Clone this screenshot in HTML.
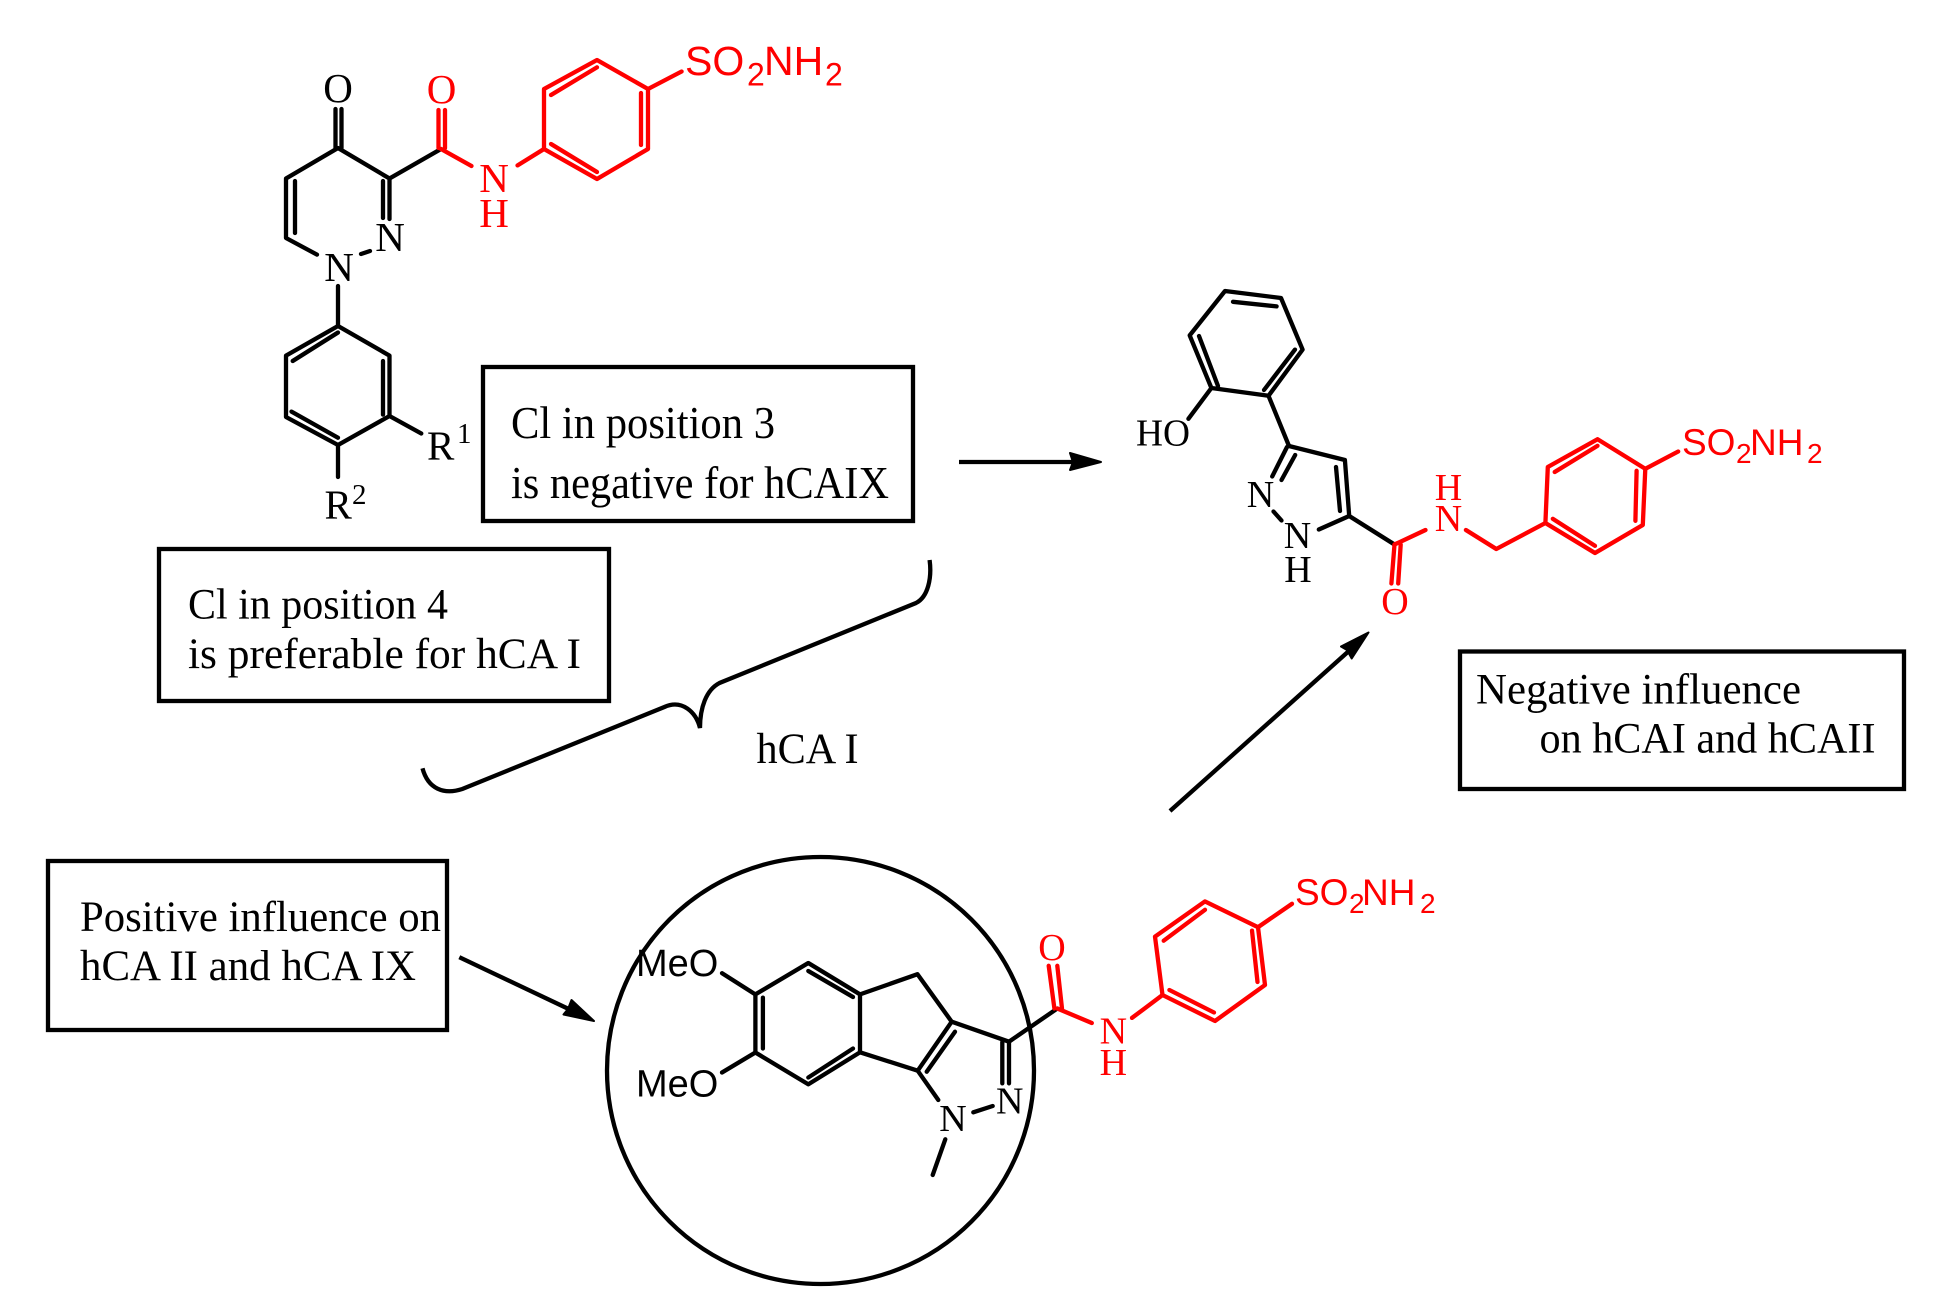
<!DOCTYPE html>
<html><head><meta charset="utf-8"><style>
html,body{margin:0;padding:0;background:#fff}
svg{display:block}
.s{font-family:"Liberation Serif",serif}
.a{font-family:"Liberation Sans",sans-serif}
.k line,.k polyline,.k polygon{stroke:#000;stroke-width:4.3;fill:none;stroke-linecap:round;stroke-linejoin:round}
.r line,.r polyline,.r polygon{stroke:#f00;stroke-width:4.3;fill:none;stroke-linecap:round;stroke-linejoin:round}
</style></head><body>
<svg width="1933" height="1311" viewBox="0 0 1933 1311" xmlns="http://www.w3.org/2000/svg">
<rect width="1933" height="1311" fill="#fff"/>

<!-- boxes -->
<g fill="none" stroke="#000" stroke-width="4.3">
<rect x="483" y="367" width="430" height="154"/>
<rect x="159" y="549" width="450" height="152"/>
<rect x="48" y="861" width="399" height="169"/>
<rect x="1460" y="651.5" width="444" height="137.5"/>
<circle cx="820.5" cy="1070.5" r="213.5"/>
<path d="M929.6 560 C932 578 928 597 916 603 L719.5 683 C706 690 700 708 700 728 C696 712 682 699 664.4 707 L462.3 789 C444 795 428 789 422.5 768.3"/>
</g>

<!-- box text -->
<g class="s" fill="#000">
<text x="511" y="438" font-size="46" textLength="264" lengthAdjust="spacingAndGlyphs">Cl in position 3</text>
<text x="511" y="498" font-size="46" textLength="378" lengthAdjust="spacingAndGlyphs">is negative for hCAIX</text>
<text x="188" y="618.5" font-size="43" textLength="260" lengthAdjust="spacingAndGlyphs">Cl in position 4</text>
<text x="188" y="668" font-size="43" textLength="393" lengthAdjust="spacingAndGlyphs">is preferable for hCA I</text>
<text x="756.5" y="763" font-size="43" textLength="102" lengthAdjust="spacingAndGlyphs">hCA I</text>
<text x="80" y="931" font-size="43" textLength="361" lengthAdjust="spacingAndGlyphs">Positive influence on</text>
<text x="80" y="980" font-size="43" textLength="336" lengthAdjust="spacingAndGlyphs">hCA II and hCA IX</text>
<text x="1476" y="703.5" font-size="43" textLength="325" lengthAdjust="spacingAndGlyphs">Negative influence</text>
<text x="1539.5" y="752.5" font-size="43" textLength="336" lengthAdjust="spacingAndGlyphs">on hCAI and hCAII</text>
</g>

<!-- arrows -->
<g stroke="#000" stroke-width="4.3" fill="none">
<line x1="959" y1="462" x2="1080" y2="462"/>
<line x1="1170" y1="811" x2="1350" y2="650"/>
<line x1="459.3" y1="957.2" x2="575" y2="1012"/>
</g>
<g fill="#000" stroke="#000" stroke-width="2" stroke-linejoin="round">
<polygon points="1101,462 1070,453 1073,462 1070,470"/>
<polygon points="1368.5,632.5 1341,646.5 1347,650 1351.7,658.5"/>
<polygon points="594,1021 571.5,1000 568,1009 563.5,1014.5"/>
</g>

<!-- molecule A black -->
<g class="k">
<line x1="335.5" y1="109" x2="335.5" y2="148"/><line x1="341.5" y1="109" x2="341.5" y2="148"/>
<polyline points="389.5,219 389.5,178.5 338,148 286,178.5 286,238 317,254.6"/>
<line x1="383" y1="181" x2="383" y2="218"/>
<line x1="295" y1="181" x2="295" y2="233"/>
<line x1="361" y1="254" x2="370" y2="251"/>
<line x1="389.5" y1="178.5" x2="441" y2="149"/>
<line x1="338" y1="286" x2="338" y2="326"/>
<polygon points="338,326 389.5,355.6 389.5,416 338,445 286,417 286,355.6"/>
<line x1="292.7" y1="361" x2="338" y2="332.5"/>
<line x1="383" y1="361" x2="383" y2="414.6"/>
<line x1="291.5" y1="411.6" x2="338" y2="437.7"/>
<line x1="389.5" y1="416" x2="421.3" y2="433.5"/>
<line x1="338" y1="445" x2="338" y2="477"/>
</g>
<g class="r">
<line x1="438.5" y1="110" x2="438.5" y2="148"/><line x1="445" y1="110" x2="445" y2="148"/>
<polyline points="441,149 471.5,166"/>
<line x1="517.5" y1="165.4" x2="544" y2="149"/>
<polygon points="544,149 544,89 597,60 648,89 648,149 597,179"/>
<line x1="551" y1="95" x2="597" y2="67.3"/>
<line x1="641" y1="93" x2="641" y2="145"/>
<line x1="551" y1="144" x2="597" y2="172"/>
<line x1="648" y1="89" x2="681.6" y2="71.5"/>
</g>
<g class="s" font-size="41" fill="#000">
<text x="338" y="102" text-anchor="middle">O</text>
<text x="339" y="281" text-anchor="middle">N</text>
<text x="390" y="251" text-anchor="middle">N</text>
<text x="427" y="459.6">R</text>
<text x="457" y="443" font-size="29">1</text>
<text x="324.5" y="518.5">R</text>
<text x="352" y="504" font-size="29">2</text>
</g>
<g class="s" font-size="41" fill="#f00">
<text x="441.5" y="103" text-anchor="middle">O</text>
<text x="494" y="192" text-anchor="middle">N</text>
<text x="494" y="227" text-anchor="middle">H</text>
</g>
<g class="a" fill="#f00">
<text x="685" y="75" font-size="41">SO</text>
<text x="747" y="85.5" font-size="32">2</text>
<text x="764" y="75" font-size="41">NH</text>
<text x="825" y="85.5" font-size="32">2</text>
</g>

<!-- molecule B black -->
<g class="k">
<polygon points="1225,291 1281,298 1302.6,349.6 1268.5,395.8 1211.4,388 1189.7,335.4"/>
<line x1="1233" y1="301.8" x2="1276.6" y2="306.4"/>
<line x1="1199" y1="336" x2="1218" y2="386"/>
<line x1="1295" y1="349.6" x2="1264" y2="390"/>
<line x1="1211.4" y1="388" x2="1188.4" y2="418.8"/>
<line x1="1268.5" y1="395.8" x2="1289" y2="446"/>
<polyline points="1289,446 1344.9,460 1349.2,516 1394.5,544.5"/>
<line x1="1287" y1="447" x2="1272.2" y2="476.5"/>
<line x1="1295.2" y1="455" x2="1281.5" y2="480"/>
<line x1="1336" y1="467" x2="1340" y2="511"/>
<line x1="1273.5" y1="511.5" x2="1281.5" y2="520.5"/>
<line x1="1318.8" y1="529.5" x2="1349.2" y2="516"/>
</g>
<g class="r">
<line x1="1394.5" y1="544.5" x2="1391.4" y2="583.5"/>
<line x1="1400.7" y1="544.5" x2="1398.2" y2="583.5"/>
<line x1="1394.5" y1="544.5" x2="1425.5" y2="530"/>
<polyline points="1465.9,530 1496.3,549 1545.4,523"/>
<polygon points="1545.4,523 1547.8,467 1597.5,439.2 1645.3,468.8 1642.8,525 1595,553"/>
<line x1="1554.7" y1="472" x2="1597.5" y2="445.8"/>
<line x1="1636.6" y1="470.8" x2="1635.4" y2="520.8"/>
<line x1="1552.8" y1="518.8" x2="1595" y2="545.8"/>
<line x1="1645.3" y1="468.8" x2="1678.2" y2="451.5"/>
</g>
<g class="s" font-size="38" fill="#000">
<text x="1136" y="445.7" textLength="54" lengthAdjust="spacingAndGlyphs">HO</text>
<text x="1260.5" y="507" text-anchor="middle">N</text>
<text x="1297.5" y="548" text-anchor="middle">N</text>
<text x="1298" y="582" text-anchor="middle">H</text>
</g>
<g class="s" font-size="38" fill="#f00">
<text x="1395" y="614" text-anchor="middle">O</text>
<text x="1448.5" y="500" text-anchor="middle">H</text>
<text x="1448.5" y="531" text-anchor="middle">N</text>
</g>
<g class="a" fill="#f00">
<text x="1682" y="455" font-size="37">SO</text>
<text x="1736" y="463" font-size="28">2</text>
<text x="1750" y="455" font-size="37">NH</text>
<text x="1807" y="463" font-size="28">2</text>
</g>

<!-- molecule C -->
<g class="k">
<polygon points="755.4,994.4 808.3,963 860,994.4 860,1052.3 808.3,1084.3 755.4,1052.5"/>
<line x1="762.9" y1="997.7" x2="762.9" y2="1048.5"/>
<line x1="808.3" y1="971" x2="853" y2="997"/>
<line x1="853" y1="1048.5" x2="808.3" y2="1077.5"/>
<line x1="755.4" y1="994.4" x2="722" y2="973.2"/>
<line x1="755.4" y1="1052.5" x2="722" y2="1072.5"/>
<polyline points="860,994.4 917.5,974.2 951.7,1021.7 917.7,1070.7 860,1052.3"/>
<line x1="955" y1="1031.7" x2="926.7" y2="1071.7"/>
<line x1="951.7" y1="1021.7" x2="1009" y2="1041.7"/>
<line x1="1002.3" y1="1042" x2="1002.3" y2="1083.3"/>
<line x1="1009" y1="1042" x2="1009" y2="1083.3"/>
<line x1="973.3" y1="1112.3" x2="992.7" y2="1106"/>
<line x1="917.7" y1="1070.7" x2="938.3" y2="1100"/>
<line x1="945.3" y1="1139.3" x2="932.7" y2="1175"/>
<line x1="1009" y1="1041.7" x2="1057.3" y2="1008.5"/>
</g>
<g class="r">
<line x1="1048.7" y1="965.8" x2="1054.4" y2="1008.5"/>
<line x1="1057.3" y1="965.8" x2="1062" y2="1008.5"/>
<line x1="1057.3" y1="1008.5" x2="1091.8" y2="1023"/>
<line x1="1132" y1="1017.9" x2="1162.5" y2="995"/>
<polygon points="1162.5,995 1155,936.6 1205,901.4 1258,927.2 1265,985 1215,1021"/>
<line x1="1163.7" y1="940.7" x2="1205" y2="909.8"/>
<line x1="1252" y1="930.6" x2="1257.5" y2="982"/>
<line x1="1169.4" y1="990" x2="1214" y2="1012.5"/>
<line x1="1258" y1="927.2" x2="1292" y2="903.8"/>
</g>
<g class="a" fill="#000" font-size="38">
<text x="636" y="976">MeO</text>
<text x="636" y="1096.7">MeO</text>
</g>
<g class="s" font-size="38" fill="#000">
<text x="1009.7" y="1113.3" text-anchor="middle">N</text>
<text x="953" y="1131" text-anchor="middle">N</text>
</g>
<g class="s" font-size="38" fill="#f00">
<text x="1052" y="960" text-anchor="middle">O</text>
<text x="1113.3" y="1043.5" text-anchor="middle">N</text>
<text x="1113.3" y="1075" text-anchor="middle">H</text>
</g>
<g class="a" fill="#f00">
<text x="1295" y="905" font-size="37">SO</text>
<text x="1349" y="913" font-size="28">2</text>
<text x="1362" y="905" font-size="37">NH</text>
<text x="1420" y="913" font-size="28">2</text>
</g>
</svg>
</body></html>
